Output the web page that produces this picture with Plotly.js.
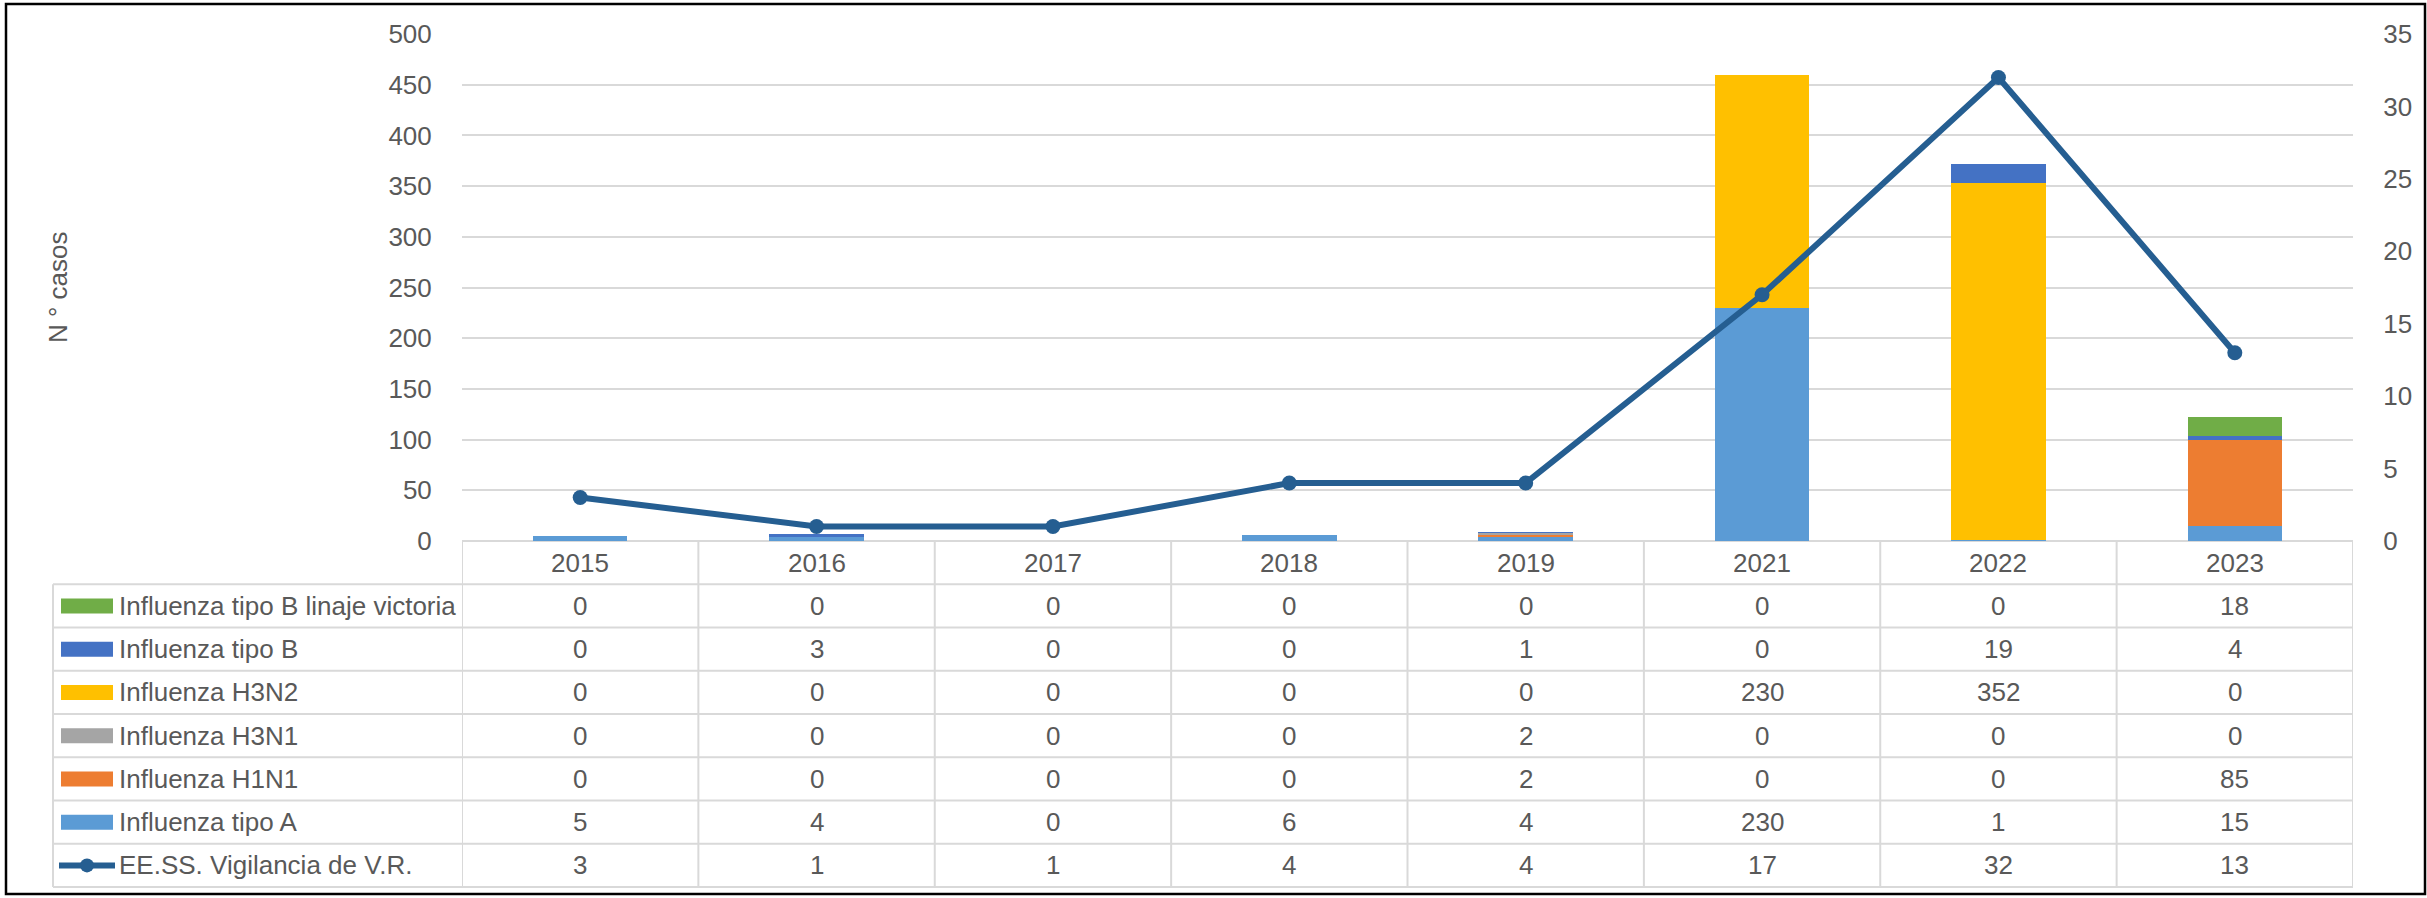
<!DOCTYPE html>
<html><head><meta charset="utf-8">
<script src="https://cdn.plot.ly/plotly-3.0.1.min.js"></script>
<style>html,body{margin:0;padding:0;background:#fff;overflow:hidden}#chart{width:2427px;height:898px}</style>
</head><body><div id="chart"></div>
<script>
// ---- data ----
const years = ['2015','2016','2017','2018','2019','2021','2022','2023'];
const tipoA      = [5, 4, 0, 6, 4, 230, 1, 15];
const h1n1       = [0, 0, 0, 0, 2, 0, 0, 85];
const h3n1       = [0, 0, 0, 0, 2, 0, 0, 0];
const h3n2       = [0, 0, 0, 0, 0, 230, 352, 0];
const tipoB      = [0, 3, 0, 0, 1, 0, 19, 4];
const victoria   = [0, 0, 0, 0, 0, 0, 0, 18];
const vigilancia = [3, 1, 1, 4, 4, 17, 32, 13];
const names = {
  tipoA: 'Influenza tipo A', h1n1: 'Influenza H1N1', h3n1: 'Influenza H3N1',
  h3n2: 'Influenza H3N2', tipoB: 'Influenza tipo B', victoria: 'Influenza tipo B linaje victoria',
  vigilancia: 'EE.SS. Vigilancia de V.R.'
};
const yTitle = 'N ° casos';

// ---- styling ----
const W = 2427, H = 898;
const PL = 462, PR = 2353, PT = 34, PB = 541;
const FONT = 'Liberation Sans, Arial, sans-serif';
const FS = 26;
const TXT = '#595959';
const GRID = '#D9D9D9';
const colors = {tipoA:'#5B9BD5', h1n1:'#ED7D31', h3n1:'#A5A5A5', h3n2:'#FFC000', tipoB:'#4472C4', victoria:'#70AD47', vigilancia:'#255E91'};
const px = x => (x - PL) / (PR - PL);
const py = y => (PB - y) / (PB - PT);

const barSeries = [['tipoA', tipoA], ['h1n1', h1n1], ['h3n1', h3n1], ['h3n2', h3n2], ['tipoB', tipoB], ['victoria', victoria]];
const traces = barSeries.map(([k, v]) => ({
  type: 'bar', x: years, y: v, name: names[k], marker: {color: colors[k], line: {width: 0}},
  xaxis: 'x', yaxis: 'y', hoverinfo: 'skip'
}));
traces.push({
  type: 'scatter', mode: 'lines+markers', x: years, y: vigilancia, name: names.vigilancia,
  xaxis: 'x', yaxis: 'y2', line: {color: colors.vigilancia, width: 6},
  marker: {color: colors.vigilancia, size: 15}, cliponaxis: false, hoverinfo: 'skip'
});

// ---- data table ----
const tableRows = [['victoria', victoria], ['tipoB', tipoB], ['h3n2', h3n2], ['h3n1', h3n1], ['h1n1', h1n1], ['tipoA', tipoA], ['vigilancia', vigilancia]];
const rowTop = 541, rowH = 43.25;
const TL = 53;
const shapes = [];
const annotations = [];
const lineStyle = {color: GRID, width: 2};
// header (year) row: category positions on the x axis
years.forEach((yr, i) => {
  annotations.push({xref: 'x', yref: 'paper', x: i, y: py(rowTop + rowH / 2), text: yr, showarrow: false,
    font: {family: FONT, size: FS, color: TXT}, xanchor: 'center', yanchor: 'middle'});
});
// horizontal lines
for (let i = 0; i <= tableRows.length + 1; i++) {
  const y = rowTop + i * rowH;
  shapes.push({type: 'line', xref: 'paper', yref: 'paper', x0: i === 0 ? 0 : px(TL), x1: 1, y0: py(y), y1: py(y), line: lineStyle, layer: 'below'});
}
// vertical lines at category boundaries
for (let k = 0; k <= years.length; k++) {
  shapes.push({type: 'line', xref: 'x', yref: 'paper', x0: k - 0.5, x1: k - 0.5, y0: py(rowTop), y1: py(rowTop + (tableRows.length + 1) * rowH), line: lineStyle});
}
shapes.push({type: 'line', xref: 'paper', yref: 'paper', x0: px(TL), x1: px(TL), y0: py(rowTop + rowH), y1: py(rowTop + (tableRows.length + 1) * rowH), line: lineStyle});
tableRows.forEach(([k, vals], r) => {
  const cy = rowTop + (r + 1) * rowH + rowH / 2;
  vals.forEach((v, i) => {
    annotations.push({xref: 'x', yref: 'paper', x: i, y: py(cy), text: String(v), showarrow: false,
      font: {family: FONT, size: FS, color: TXT}, xanchor: 'center', yanchor: 'middle'});
  });
  annotations.push({xref: 'paper', yref: 'paper', x: px(117), y: py(cy), text: names[k], showarrow: false,
    font: {family: FONT, size: FS, color: TXT}, xanchor: 'left', yanchor: 'middle'});
  if (k === 'vigilancia') {
    shapes.push({type: 'line', xref: 'paper', yref: 'paper', x0: px(59), x1: px(115), y0: py(cy), y1: py(cy), line: {color: colors[k], width: 6}});
    shapes.push({type: 'circle', xref: 'paper', yref: 'paper', x0: px(80), x1: px(94), y0: py(cy - 7), y1: py(cy + 7), fillcolor: colors[k], line: {width: 0}});
  } else {
    shapes.push({type: 'rect', xref: 'paper', yref: 'paper', x0: px(61), x1: px(113), y0: py(cy - 7.5), y1: py(cy + 7.5), fillcolor: colors[k], line: {width: 0}});
  }
});
// y-axis title
annotations.push({xref: 'paper', yref: 'paper', x: px(58), y: py(287), text: yTitle, textangle: -90, showarrow: false,
  font: {family: FONT, size: FS, color: TXT}, xanchor: 'center', yanchor: 'middle'});
// outer chart border
shapes.push({type: 'rect', xref: 'paper', yref: 'paper', x0: px(6), x1: px(2425), y0: py(4), y1: py(894), line: {color: '#000', width: 2.5}, fillcolor: 'rgba(0,0,0,0)'});

const layout = {
  width: W, height: H,
  margin: {l: PL, r: W - PR, t: PT, b: H - PB, pad: 0},
  paper_bgcolor: '#fff', plot_bgcolor: '#fff',
  barmode: 'stack', bargap: 0.6,
  showlegend: false,
  font: {family: FONT, size: FS, color: TXT},
  xaxis: {type: 'category', categoryorder: 'array', categoryarray: years, range: [-0.5, years.length - 0.5],
    showticklabels: false, showgrid: false, zeroline: false, showline: false, ticks: '', fixedrange: true},
  yaxis: {range: [0, 500], dtick: 50, tick0: 0, showgrid: true, gridcolor: GRID, gridwidth: 2, zeroline: false,
    showline: false, ticks: 'outside', ticklen: 24, tickcolor: 'rgba(0,0,0,0)',
    tickfont: {family: FONT, size: FS, color: TXT}, automargin: false},
  yaxis2: {range: [0, 35], dtick: 5, tick0: 0, overlaying: 'y', side: 'right', showgrid: false, zeroline: false,
    showline: false, ticks: 'outside', ticklen: 24, tickcolor: 'rgba(0,0,0,0)',
    tickfont: {family: FONT, size: FS, color: TXT}, automargin: false},
  shapes: shapes,
  annotations: annotations
};
Plotly.newPlot('chart', traces, layout, {staticPlot: true, displayModeBar: false});
</script>
</body></html>
